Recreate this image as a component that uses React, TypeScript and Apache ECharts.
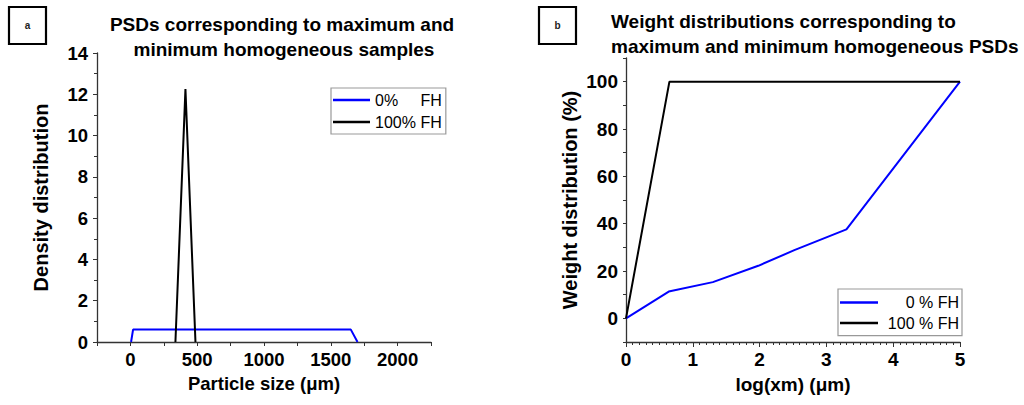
import React, { useEffect, useRef } from "react";
import * as echarts from "echarts";

// Panel a: PSDs
const aBlueSize = [5, 20, 1650, 1700];
const aBlueDensity = [0, 0.6, 0.6, 0];
const aBlackSize = [337, 412, 487];
const aBlackDensity = [0, 12.25, 0];
const aNames = ["0%     FH", "100% FH"];

// Panel b: weight distributions
const bBlueLog = [0, 0.64, 1.3, 1.98, 2.52, 3.3, 5];
const bBlueWeight = [0, 11.3, 15.3, 22.2, 28.8, 37.6, 100];
const bBlackLog = [0, 0.65, 5];
const bBlackWeight = [0, 100, 100];
const bNames = ["0 % FH", "100 % FH"];

const FONT = "'Liberation Sans', Arial, sans-serif";
const AXIS_COLOR = "#333";

function pairs(xs: number[], ys: number[]) {
  return xs.map((x, i) => [x, ys[i]]);
}

export default function App() {
  const ref = useRef<HTMLDivElement>(null);
  useEffect(() => {
    if (!ref.current) return;
    const chart = echarts.init(ref.current, undefined, { renderer: "svg" });
    const axisLine = { show: true, onZero: false, lineStyle: { color: AXIS_COLOR, width: 1.3 } };
    const option: any = {
      animation: false,
      backgroundColor: "#fff",
      textStyle: { fontFamily: FONT },
      grid: [
        { left: 97, top: 53, width: 334, height: 289 },
        { left: 626, top: 58, width: 334, height: 284 },
      ],
      xAxis: [
        {
          gridIndex: 0,
          type: "value",
          min: -250,
          max: 2250,
          interval: 250,
          axisLine,
          axisTick: { show: true, length: 4, lineStyle: { color: AXIS_COLOR } },
          splitLine: { show: false },
          axisLabel: {
            margin: 8,
            fontSize: 18.5,
            fontWeight: "bold",
            color: "#000",
            fontFamily: FONT,
            formatter: (v: number) => (v >= 0 && v % 500 === 0 ? String(v) : ""),
          },
          name: "Particle size (\u03bcm)",
          nameLocation: "middle",
          nameGap: 30,
          nameTextStyle: { fontSize: 18.5, fontWeight: "bold", color: "#000", fontFamily: FONT },
        },
        {
          gridIndex: 1,
          type: "value",
          min: 0,
          max: 5,
          interval: 1,
          axisLine,
          axisTick: { show: true, length: 5, lineStyle: { color: AXIS_COLOR } },
          minorTick: { show: true, splitNumber: 10, length: 3, lineStyle: { color: AXIS_COLOR } },
          splitLine: { show: false },
          minorSplitLine: { show: false },
          axisLabel: {
            margin: 8,
            fontSize: 19,
            fontWeight: "bold",
            color: "#000",
            fontFamily: FONT,
          },
          name: "log(xm) (\u03bcm)",
          nameLocation: "middle",
          nameGap: 33,
          nameTextStyle: { fontSize: 19, fontWeight: "bold", color: "#000", fontFamily: FONT },
        },
      ],
      yAxis: [
        {
          gridIndex: 0,
          type: "value",
          min: 0,
          max: 14,
          interval: 2,
          axisLine,
          axisTick: { show: true, length: 4, lineStyle: { color: AXIS_COLOR } },
          minorTick: { show: true, splitNumber: 2, length: 3, lineStyle: { color: AXIS_COLOR } },
          splitLine: { show: false },
          minorSplitLine: { show: false },
          axisLabel: {
            margin: 9,
            fontSize: 18.5,
            fontWeight: "bold",
            color: "#000",
            fontFamily: FONT,
          },
          name: "Density distribution",
          nameLocation: "middle",
          nameGap: 46,
          nameTextStyle: { fontSize: 20, fontWeight: "bold", color: "#000", fontFamily: FONT },
        },
        {
          gridIndex: 1,
          type: "value",
          min: -10,
          max: 110,
          interval: 10,
          axisLine,
          axisTick: { show: true, length: 3, lineStyle: { color: AXIS_COLOR } },
          splitLine: { show: false },
          axisLabel: {
            margin: 8,
            fontSize: 19,
            fontWeight: "bold",
            color: "#000",
            fontFamily: FONT,
            formatter: (v: number) => (v >= 0 && v <= 100 && v % 20 === 0 ? String(v) : ""),
          },
          name: "Weight distribution (%)",
          nameLocation: "middle",
          nameGap: 46,
          nameTextStyle: { fontSize: 20, fontWeight: "bold", color: "#000", fontFamily: FONT },
        },
      ],
      legend: [
        {
          data: aNames,
          orient: "vertical",
          left: 331,
          top: 88,
          padding: [3, 4, 3, 2],
          itemGap: 4,
          itemWidth: 37,
          itemHeight: 2.5,
          icon: "rect",
          borderColor: "#999",
          borderWidth: 1.2,
          textStyle: {
            fontSize: 16,
            lineHeight: 18,
            color: "#000",
            fontFamily: FONT,
            rich: { w: { width: 45.5, fontSize: 16, fontFamily: FONT }, r: { fontSize: 16, fontFamily: FONT } },
          },
          formatter: (name: string) =>
            name.startsWith("0%") ? "{w|0%}{r|FH}" : "{w|100%}{r|FH}",
        },
        {
          data: bNames,
          orient: "vertical",
          left: 838,
          top: 289,
          padding: [4.5, 3, 3.5, 2],
          itemGap: 2.6,
          itemWidth: 38,
          itemHeight: 2.5,
          icon: "rect",
          borderColor: "#999",
          borderWidth: 1.2,
          textStyle: {
            fontSize: 16,
            lineHeight: 18,
            color: "#000",
            fontFamily: FONT,
            rich: { r: { width: 76, align: "right", fontSize: 16, fontFamily: FONT } },
          },
          formatter: (name: string) => "{r|" + name + "}",
        },
      ],
      series: [
        {
          name: aNames[0],
          type: "line",
          xAxisIndex: 0,
          yAxisIndex: 0,
          data: pairs(aBlueSize, aBlueDensity),
          symbol: "none",
          lineStyle: { color: "#0000ff", width: 2 },
          itemStyle: { color: "#0000ff" },
        },
        {
          name: aNames[1],
          type: "line",
          xAxisIndex: 0,
          yAxisIndex: 0,
          data: pairs(aBlackSize, aBlackDensity),
          symbol: "none",
          lineStyle: { color: "#000", width: 2 },
          itemStyle: { color: "#000" },
        },
        {
          name: bNames[0],
          type: "line",
          xAxisIndex: 1,
          yAxisIndex: 1,
          data: pairs(bBlueLog, bBlueWeight),
          symbol: "none",
          lineStyle: { color: "#0000ff", width: 2 },
          itemStyle: { color: "#0000ff" },
        },
        {
          name: bNames[1],
          type: "line",
          xAxisIndex: 1,
          yAxisIndex: 1,
          data: pairs(bBlackLog, bBlackWeight),
          symbol: "none",
          lineStyle: { color: "#000", width: 2 },
          itemStyle: { color: "#000" },
        },
      ],
      graphic: [
        {
          type: "rect",
          shape: { x: 9, y: 7, width: 37, height: 37 },
          style: { fill: "none", stroke: "#000", lineWidth: 2.2 },
        },
        {
          type: "text",
          x: 27.5,
          y: 25.5,
          style: { text: "a", fill: "#222", font: `bold 10px ${FONT}`, align: "center", verticalAlign: "middle" },
        },
        {
          type: "rect",
          shape: { x: 539, y: 7, width: 37, height: 37 },
          style: { fill: "none", stroke: "#000", lineWidth: 2.2 },
        },
        {
          type: "text",
          x: 557.5,
          y: 25.5,
          style: { text: "b", fill: "#222", font: `bold 10px ${FONT}`, align: "center", verticalAlign: "middle" },
        },
        {
          type: "text",
          x: 282,
          y: 24,
          style: { text: "PSDs corresponding to maximum and", fill: "#000", font: `bold 19px ${FONT}`, align: "center", verticalAlign: "middle" },
        },
        {
          type: "text",
          x: 284,
          y: 49,
          style: { text: "minimum homogeneous samples", fill: "#000", font: `bold 19px ${FONT}`, align: "center", verticalAlign: "middle" },
        },
        {
          type: "text",
          x: 611,
          y: 21,
          style: { text: "Weight distributions corresponding to", fill: "#000", font: `bold 19px ${FONT}`, align: "left", verticalAlign: "middle" },
        },
        {
          type: "text",
          x: 611,
          y: 46,
          style: { text: "maximum and minimum homogeneous PSDs", fill: "#000", font: `bold 19px ${FONT}`, align: "left", verticalAlign: "middle" },
        },
      ],
    };
    chart.setOption(option);
    return () => chart.dispose();
  }, []);
  return (
    <div
      ref={ref}
      style={{ position: "absolute", left: 0, top: 0, width: 1024, height: 405, background: "#fff" }}
    />
  );
}
